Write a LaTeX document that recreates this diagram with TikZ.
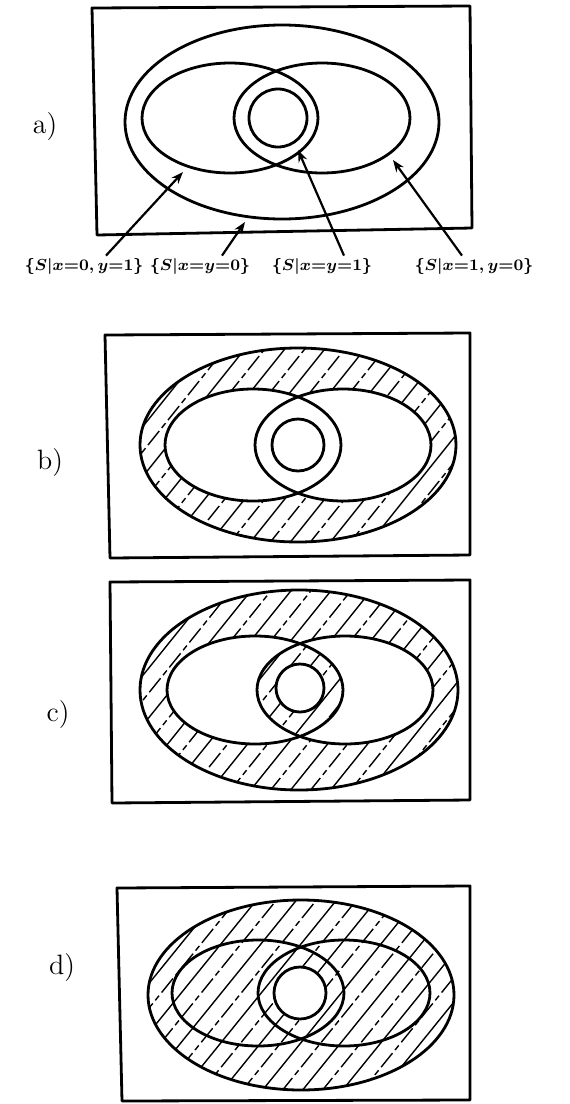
\documentclass[tikz,border=0pt]{standalone}
\usetikzlibrary{arrows.meta}

\tikzset{
  outline/.style={line width=1.4pt},
  frame/.style={line width=1.4pt, line join=round},
  hatchline/.style={line width=0.7pt},
  brokenhatch/.style={line width=0.7pt, dash pattern=on 9pt off 2pt on 3pt off 2pt},
  settag/.style={font=\fontsize{14}{16}\selectfont},
  setlabel/.style={font=\footnotesize\boldmath, inner sep=1pt},
  pointer/.style={line width=1.1pt, -{Stealth[length=6pt,width=4.5pt]}}
}

\begin{document}
\begin{tikzpicture}[x=0.5pt, y=-0.5pt]
        \useasboundingbox (0,0) rectangle (569,1104);

        % a)
        \draw[frame] (92,8) -- (470,6) -- (472,228) -- (97,235) -- cycle;
        \draw[outline] (282,122) ellipse [x radius=157, y radius=97];
        \draw[outline] (230,118) ellipse [x radius=88, y radius=55];
        \draw[outline] (322,118) ellipse [x radius=88, y radius=55];
        \draw[outline] (278,118) circle (29);
        \node[settag] (tagA) at (45,127) {a)};
        \node[setlabel] (labA1) at (84,266) {$\{S|x{=}0,y{=}1\}$};
        \node[setlabel] (labA2) at (200,266) {$\{S|x{=}y{=}0\}$};
        \node[setlabel] (labA3) at (322,266) {$\{S|x{=}y{=}1\}$};
        \node[setlabel] (labA4) at (474,266) {$\{S|x{=}1,y{=}0\}$};
        \coordinate (tipA1) at (183,172);
        \coordinate (tipA2) at (245,222);
        \coordinate (tipA3) at (298,150);
        \coordinate (tipA4) at (393,160);
        \draw[pointer] ([xshift=11pt]labA1.north) -- (tipA1);
        \draw[pointer] ([xshift=11pt]labA2.north) -- (tipA2);
        \draw[pointer] ([xshift=11pt]labA3.north) -- (tipA3);
        \draw[pointer] ([xshift=-6pt]labA4.north) -- (tipA4);

        % b)
        \draw[frame] (105,335) -- (470,333) -- (470,555) -- (110,558) -- cycle;
        \begin{scope}
          \clip (298,445) ellipse [x radius=158, y radius=97];
          \foreach \s in {-330,-290,...,190}
            \draw[hatchline] (298+\s,545) -- ++(160,-200);
          \foreach \s in {-310,-270,...,190}
            \draw[brokenhatch] (298+\s,545) -- ++(160,-200);
        \end{scope}
        \fill[white] (253,445) ellipse [x radius=88, y radius=56];
        \fill[white] (343,445) ellipse [x radius=88, y radius=56];
        \draw[outline] (298,445) ellipse [x radius=158, y radius=97];
        \draw[outline] (253,445) ellipse [x radius=88, y radius=56];
        \draw[outline] (343,445) ellipse [x radius=88, y radius=56];
        \draw[outline] (298,445) circle (26);
        \node[settag] (tagB) at (50,463) {b)};

        % c)
        \draw[frame] (110,582) -- (470,580) -- (470,800) -- (112,803) -- cycle;
        \begin{scope}
          \clip (299,690) ellipse [x radius=159, y radius=100];
          \foreach \s in {-330,-290,...,190}
            \draw[hatchline] (299+\s,792) -- ++(165,-205);
          \foreach \s in {-310,-270,...,190}
            \draw[brokenhatch] (299+\s,792) -- ++(165,-205);
        \end{scope}
        \fill[white] (255,690) ellipse [x radius=88, y radius=54];
        \fill[white] (345,690) ellipse [x radius=88, y radius=54];
        \begin{scope}
          \clip (255,690) ellipse [x radius=88, y radius=54];
          \clip (345,690) ellipse [x radius=88, y radius=54];
          \foreach \s in {-330,-290,...,190}
            \draw[hatchline] (299+\s,792) -- ++(165,-205);
          \foreach \s in {-310,-270,...,190}
            \draw[brokenhatch] (299+\s,792) -- ++(165,-205);
        \end{scope}
        \fill[white] (300,688) circle (24);
        \draw[outline] (299,690) ellipse [x radius=159, y radius=100];
        \draw[outline] (255,690) ellipse [x radius=88, y radius=54];
        \draw[outline] (345,690) ellipse [x radius=88, y radius=54];
        \draw[outline] (300,688) circle (24);
        \node[settag] (tagC) at (58,715) {c)};

        % d)
        \draw[frame] (117,888) -- (470,886) -- (470,1100) -- (122,1101) -- cycle;
        \begin{scope}
          \clip (301,995) ellipse [x radius=153, y radius=95];
          \foreach \s in {-320,-280,...,190}
            \draw[hatchline] (301+\s,1092) -- ++(158,-195);
          \foreach \s in {-300,-260,...,190}
            \draw[brokenhatch] (301+\s,1092) -- ++(158,-195);
        \end{scope}
        \fill[white] (300,993) circle (26);
        \draw[outline] (301,995) ellipse [x radius=153, y radius=95];
        \draw[outline] (258,993) ellipse [x radius=86, y radius=53];
        \draw[outline] (344,993) ellipse [x radius=86, y radius=53];
        \draw[outline] (300,993) circle (26);
        \node[settag] (tagD) at (62,968) {d)};
    \end{tikzpicture}
\end{document}
